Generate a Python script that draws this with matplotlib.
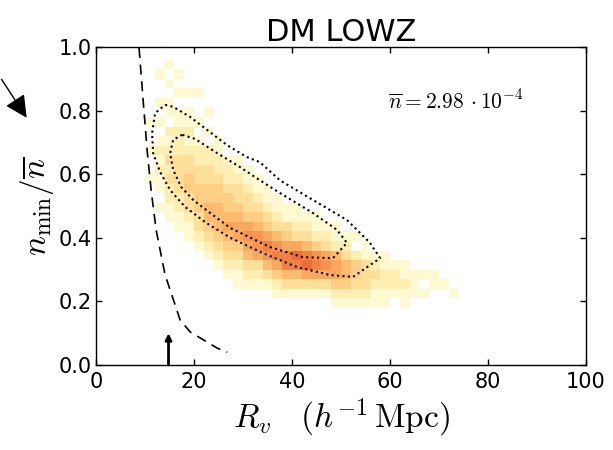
import numpy as np
import matplotlib
matplotlib.use('Agg')
import matplotlib.pyplot as plt
from matplotlib.colors import LinearSegmentedColormap
from matplotlib.patches import FancyArrowPatch

# 2D histogram of voids: R_v bins of 2 (10..80), n_min/nbar bins of 0.03 (0.15..0.96)
r_edges = np.arange(10, 82, 2)
n_edges = np.arange(0.15, 0.97, 0.03)
# count level per R_v column, rows listed from top (0.93-0.96) to bottom (0.15-0.18)
counts_by_column = [
    "000000100100100000000000000",
    "010010101212110100000000000",
    "101011021232322110000000000",
    "010101122233332211000000000",
    "000101121233443321100000000",
    "000100101223344433210000000",
    "000001010223344554321000000",
    "000000001122344555432100000",
    "000000000012234456543210000",
    "000000000011233456643211000",
    "000000000001123346765321000",
    "000000000000112345776321000",
    "000000000000011234687531000",
    "000000000000001123578642100",
    "000000000000000113468853100",
    "000000000000000112369853100",
    "000000000000000012358963100",
    "000000000000000011247863100",
    "000000000000000001236763100",
    "000000000000000001125664210",
    "000000000000000000123554210",
    "000000000000000000102443210",
    "000000000000000000011333210",
    "000000000000000000001232110",
    "000000000000000000001122110",
    "000000000000000000000122100",
    "000000000000000000000112110",
    "000000000000000000000011100",
    "000000000000000000000010100",
    "000000000000000000000011000",
    "000000000000000000000001000",
    "000000000000000000000000100",
    "000000000000000000000000000",
    "000000000000000000000000000",
    "000000000000000000000000000",
]

# mock-galaxy contours (dotted)
outer_r = [14.11, 15.75, 19.22, 22.70, 26.79, 30.78, 33.43, 37.52, 44.27, 51.22, 55.93, 57.97,
           54.50, 52.45, 47.75, 41.00, 34.05, 27.40, 22.29, 18.20, 15.13, 13.09, 11.66, 11.45,
           12.06, 14.11]
outer_n = [0.818, 0.812, 0.780, 0.739, 0.691, 0.654, 0.638, 0.581, 0.519, 0.456, 0.384, 0.336,
           0.299, 0.277, 0.283, 0.308, 0.352, 0.400, 0.449, 0.497, 0.550, 0.607, 0.666, 0.730,
           0.792, 0.818]
inner_r = [17.59, 15.75, 15.13, 15.75, 17.38, 19.84, 23.31, 27.40, 35.48, 42.23, 48.36, 51.22,
           49.18, 44.27, 37.52, 33.43, 29.34, 24.33, 20.24, 17.59]
inner_n = [0.724, 0.708, 0.666, 0.613, 0.560, 0.519, 0.478, 0.431, 0.371, 0.339, 0.336, 0.384,
           0.425, 0.478, 0.541, 0.581, 0.623, 0.670, 0.711, 0.724]

# dashed limit curve
limit_r = [8.79, 9.61, 10.43, 11.25, 12.27, 13.09, 14.11, 15.13, 17.18, 19.22, 21.27, 24.74, 26.79]
limit_n = [0.997, 0.834, 0.676, 0.550, 0.425, 0.361, 0.283, 0.236, 0.141, 0.104, 0.085, 0.053, 0.040]

arrow_r = 14.8
nbar_label = r'$\overline{n}=2.98\,\cdot 10^{-4}$'

plt.rcParams['mathtext.fontset'] = 'cm'
plt.rcParams['font.family'] = 'DejaVu Sans'

fig = plt.figure(figsize=(6.13, 4.5), dpi=100)
ax = fig.add_axes([96 / 613, 85 / 450, 490 / 613, 318 / 450])

counts = np.array([[int(ch) for ch in col] for col in counts_by_column], dtype=float).T
counts = counts[::-1]  # rows bottom -> top
counts = np.ma.masked_equal(counts, 0)
heat = LinearSegmentedColormap.from_list(
    'heat', ['#fff9d2', '#feeaa8', '#fdd48a', '#fcbb6e', '#f9a15b', '#f5874a', '#ee6c38'])
ax.pcolormesh(r_edges, n_edges, counts, cmap=heat, vmin=1, vmax=9,
              edgecolors='none', linewidth=0)

ax.plot(outer_r, outer_n, color='k', lw=1.5, ls=(0, (1, 1.6)))
ax.plot(inner_r, inner_n, color='k', lw=1.5, ls=(0, (1, 1.6)))
ax.plot(limit_r, limit_n, color='k', lw=1.2, ls=(0, (6, 4)))

ax.annotate('', xy=(arrow_r, 0.10), xytext=(arrow_r, 0.0),
            arrowprops=dict(arrowstyle='-|>', color='k', lw=2, mutation_scale=9,
                            shrinkA=0, shrinkB=0))

ax.text(59.6, 0.833, nbar_label, fontsize=15.5, va='center', ha='left')

ax.set_xlim(0, 100)
ax.set_ylim(0, 1)
ax.set_xticks([0, 20, 40, 60, 80, 100])
ax.set_yticks([0.0, 0.2, 0.4, 0.6, 0.8, 1.0])
ax.tick_params(direction='in', top=True, right=True, length=4.5, width=1,
               labelsize=15)
ax.tick_params(axis='x', pad=5)
ax.tick_params(axis='y', pad=3)
for s in ax.spines.values():
    s.set_linewidth(1)

ax.set_title('DM LOWZ', fontsize=22, pad=4)
ax.set_xlabel(r'$R_v\ \ \ (h^{-1}\,\mathrm{Mpc})$', fontsize=24, labelpad=3)
ax.set_ylabel(r'$n_{\rm min}/\overline{n}$', fontsize=24, labelpad=2)

# edge of the neighbouring panel's arrow
fig.patches.append(FancyArrowPatch((0.0, 0.829), (0.046, 0.733), transform=fig.transFigure,
                                   arrowstyle='-|>', mutation_scale=34, lw=1, color='k'))

fig.savefig('out.png', dpi=100)
